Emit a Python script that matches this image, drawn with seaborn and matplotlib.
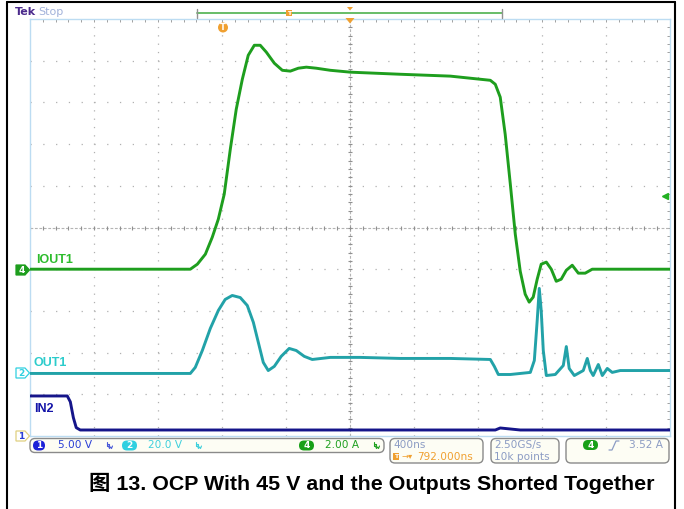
import matplotlib
matplotlib.use("Agg")
import matplotlib.pyplot as plt
from matplotlib.patches import FancyBboxPatch, Polygon, Circle
import numpy as np
import pandas as pd
import seaborn as sns

sns.set_theme(style="white")
plt.rcParams['font.family'] = ['DejaVu Sans', 'Noto Sans CJK SC']
plt.rcParams['lines.scale_dashes'] = False

# 示波器设置
time_per_div = 400.0      # ns/div
trig_offset = 792.0       # ns, 屏幕中心相对触发点
trig_level = 3.52         # A
ch1_scale, ch2_scale, ch4_scale = 5.0, 20.0, 2.0   # V/div, V/div, A/div
ch1_pos, ch2_pos, ch4_pos = 0.0, 1.5, 4.0          # div

# IOUT1 (ch4, A)
iout_t = [-1206, -206, -162, -112, -69, -31, 6, 44, 81, 119, 156, 194, 231, 269,
          319, 369, 419, 469, 519, 581, 669, 794, 1106, 1419, 1669, 1700, 1731,
          1762, 1794, 1825, 1856, 1887, 1912, 1937, 1962, 1987, 2019, 2050, 2081,
          2112, 2144, 2181, 2219, 2262, 2306, 2356, 2794]
iout_a = [0.0, 0.0, 0.24, 0.72, 1.53, 2.40, 3.60, 5.76, 7.67, 9.11, 10.26, 10.74,
          10.74, 10.41, 9.88, 9.54, 9.50, 9.64, 9.69, 9.64, 9.54, 9.45, 9.35, 9.26,
          9.06, 8.87, 8.25, 6.47, 4.08, 1.68, -0.10, -1.20, -1.58, -1.34, -0.48,
          0.24, 0.34, 0.0, -0.58, -0.48, -0.05, 0.19, -0.19, -0.19, 0.0, 0.0, 0.0]

# OUT1 (ch2, V)
out_t = [-1206, -206, -175, -131, -81, -31, 12, 56, 106, 150, 188, 219, 250, 281,
         319, 362, 412, 456, 506, 556, 669, 856, 1106, 1419, 1669, 1694, 1719, 1794,
         1919, 1944, 1962, 1975, 1987, 2000, 2019, 2075, 2125, 2144, 2162, 2194,
         2250, 2275, 2294, 2312, 2344, 2369, 2400, 2431, 2481, 2794]
out_v = [0.0, 0.0, 2.9, 11.0, 21.6, 30.2, 35.5, 37.4, 36.4, 32.6, 24.5, 14.9, 5.3,
         1.4, 3.4, 8.2, 12.0, 11.0, 8.2, 6.7, 7.7, 7.7, 7.2, 7.2, 6.7, 3.4, -0.5,
         -0.5, 0.5, 6.2, 25.4, 40.8, 30.2, 11.0, -1.0, -0.5, 3.8, 12.9, 2.4, -1.0,
         1.4, 7.2, 1.4, -1.0, 4.3, -1.0, 2.4, 0.5, 1.4, 1.4]

# IN2 (ch1, V)
in2_t = [-1206, -975, -956, -937, -919, -894, 1700, 1731, 1794, 1856, 2794]
in2_v = [4.8, 4.8, 4.1, 2.2, 1.0, 0.72, 0.72, 0.96, 0.84, 0.72, 0.72]

W, H = 684, 509
fig = plt.figure(figsize=(W / 100, H / 100), dpi=100)
fig.patch.set_facecolor('white')

x0 = trig_offset - 5 * time_per_div
x1 = trig_offset + 5 * time_per_div
ax = fig.add_axes([30 / W, 1 - 436 / H, 640 / W, 417 / H])
ax.set_xlim(x0, x1)
ax.set_ylim(0, 10)

# 网格
for k in range(1, 10):
    if k == 5:
        continue
    ax.axvline(x0 + k * time_per_div, color='#b0b0b0', lw=0.9, ls=(0, (0.9, 5.1)), zorder=1)
    ax.axhline(k, color='#b0b0b0', lw=0.9, ls=(0, (0.9, 8.3)), zorder=1)
ax.axhline(5, color='#b4b4b4', lw=0.8, ls=(0, (2.0, 1.2)), zorder=1)
ax.axvline(trig_offset, color='#b4b4b4', lw=0.8, ls=(0, (2.0, 1.2)), zorder=1)
mx = np.arange(x0, x1 + 1, time_per_div / 5)
my = np.arange(0, 10.01, 0.2)
ax.plot(mx, np.full(len(mx), 5.0), ls='none', marker='|', ms=3, mew=0.8, color='#909090', zorder=1)
ax.plot(np.full(len(my), trig_offset), my, ls='none', marker='_', ms=3, mew=0.8, color='#909090', zorder=1)

ax.set_xticks(mx)
ax.set_yticks(my)
ax.tick_params(which='both', direction='in', length=2.5, width=0.7, color='#a0a0a0',
               top=True, right=True, labelbottom=False, labelleft=False)
for s in ax.spines.values():
    s.set_color('#bcdcf2')
    s.set_linewidth(1.0)

# 波形
traces = [
    (iout_t, iout_a, ch4_pos, ch4_scale, '#1e9e1e'),
    (out_t, out_v, ch2_pos, ch2_scale, '#22a2a8'),
    (in2_t, in2_v, ch1_pos, ch1_scale, '#15158a'),
]
for t, v, pos, scale, col in traces:
    df = pd.DataFrame({'t': t, 'div': pos + np.array(v) / scale})
    sns.lineplot(data=df, x='t', y='div', ax=ax, color=col, lw=2.1,
                 estimator=None, sort=False, legend=False, zorder=3)
ax.set_xlabel('')
ax.set_ylabel('')

# 触发电平标记
ax.plot([x1 - 30], [ch4_pos + trig_level / ch4_scale], marker='<', ms=4.5,
        color='#22b022', clip_on=False, zorder=4)

# 叠加层 (像素坐标)
ov = fig.add_axes([0, 0, 1, 1], zorder=10)
ov.set_xlim(0, W)
ov.set_ylim(H, 0)
ov.set_axis_off()

# 外框
ov.plot([7, 7], [2, H], color='black', lw=1.5)
ov.plot([7, 675], [2, 2], color='black', lw=1.5)
ov.plot([675, 675], [2, H], color='black', lw=1.5)

ov.text(15, 12, 'Tek', color='#4b2a8c', fontsize=8, fontweight='bold', va='center')
ov.text(38.5, 12, 'Stop', color='#a2b2da', fontsize=8, va='center')

# 记录条
ov.plot([197, 502], [13, 13], color='#5cb85c', lw=1.3)
for bx in (197, 502):
    ov.plot([bx, bx], [8.5, 17.5], color='#909090', lw=1.0)
ov.text(289, 13, 'T', color='white', fontsize=4.5, fontweight='bold', ha='center', va='center',
        bbox=dict(boxstyle='square,pad=0.15', fc='#f0a030', ec='none'))
ov.add_patch(Polygon([[347, 7], [353, 7], [350, 10.5]], closed=True, fc='#f0a030', ec='none'))
ov.add_patch(Polygon([[345.5, 18], [354.5, 18], [350, 23.5]], closed=True, fc='#f0a030', ec='none'))
ov.add_patch(Circle((223, 27.5), 5, fc='#f0a030', ec='none'))
ov.text(223, 27.8, 'T', color='white', fontsize=6, fontweight='bold', ha='center', va='center')

# 通道标签
ov.text(36, 260, 'IOUT1', color='#2cbc2c', fontsize=9, fontweight='bold', va='center',
        family=['Liberation Sans', 'DejaVu Sans'])
ov.text(34, 363, 'OUT1', color='#2ccccc', fontsize=9, fontweight='bold', va='center',
        family=['Liberation Sans', 'DejaVu Sans'])
ov.text(34, 409, 'IN2', color='#1414a8', fontsize=9, fontweight='bold', va='center',
        family=['Liberation Sans', 'DejaVu Sans'])


def ch_flag(y, num, fc, ec, tc):
    ov.add_patch(Polygon([[16, y - 5], [25, y - 5], [29.5, y], [25, y + 5], [16, y + 5]],
                         closed=True, fc=fc, ec=ec, lw=0.9))
    ov.text(21.5, y + 0.3, num, color=tc, fontsize=6.5, fontweight='bold', ha='center', va='center')


ch_flag(270, '4', '#1e9e1e', '#1e9e1e', 'white')
ch_flag(373, '2', 'white', '#30d0e0', '#30d0e0')
ch_flag(436, '1', 'white', '#e0d080', '#2a3fd6')

# 状态栏
box_kw = dict(boxstyle='round,pad=0,rounding_size=5', fc='#fdfdf4', ec='#8a8a8a', lw=1.0)
ov.add_patch(FancyBboxPatch((30, 438.5), 354, 14, **box_kw))
ov.add_patch(FancyBboxPatch((390, 438.5), 93, 24.5, **box_kw))
ov.add_patch(FancyBboxPatch((491, 438.5), 68, 24.5, **box_kw))
ov.add_patch(FancyBboxPatch((566, 438.5), 103, 24.5, **box_kw))


def pill(x, y, w, num, fc):
    ov.add_patch(FancyBboxPatch((x, y - 5), w, 10, boxstyle='round,pad=0,rounding_size=5',
                                fc=fc, ec='none'))
    ov.text(x + w / 2, y + 0.3, num, color='white', fontsize=6.5, fontweight='bold',
            ha='center', va='center')


def bw_icon(x, y, col):
    # 带宽限制小图标
    ov.plot([x - 2.5, x - 2.5, x - 0.5, x - 0.5, x - 2.5], [y - 3.5, y + 0.5, y + 0.5, y - 1.5, y - 1.5],
            color=col, lw=0.8)
    ov.plot([x - 0.5, x + 0.5, x + 1.5, x + 2.5, x + 3.5], [y + 0.5, y + 3, y + 1.5, y + 3, y + 0.5],
            color=col, lw=0.8)


pill(33, 445.5, 12, '1', '#1c22d8')
ov.text(58, 445.5, '5.00 V', color='#2a3fd6', fontsize=7.6, va='center')
bw_icon(109, 445.5, '#4a5ad8')
pill(122, 445.5, 15, '2', '#30d0e0')
ov.text(148, 445.5, '20.0 V', color='#3fd0dc', fontsize=7.6, va='center')
bw_icon(198, 445.5, '#3fd0dc')
pill(299, 445.5, 15, '4', '#18a018')
ov.text(325, 445.5, '2.00 A', color='#20a020', fontsize=7.6, va='center')
bw_icon(376, 445.5, '#20a020')

dim = '#8c9cc4'
ov.text(393, 445, '400ns', color=dim, fontsize=7.6, va='center')
ov.text(396, 456.5, 'T', color='white', fontsize=4.5, fontweight='bold', ha='center', va='center',
        bbox=dict(boxstyle='square,pad=0.15', fc='#f0a030', ec='none'))
ov.text(401, 456.5, '→▾', color='#f0a030', fontsize=6, va='center')
ov.text(417, 456.5, '792.000ns', color='#f0a030', fontsize=7.6, va='center')
ov.text(494, 445, '2.50GS/s', color=dim, fontsize=7.6, va='center')
ov.text(494, 456.5, '10k points', color=dim, fontsize=7.6, va='center')
pill(583, 445, 15, '4', '#18a018')
ov.plot([609, 612, 616, 619], [450, 450, 441, 441], color=dim, lw=0.9)
ov.text(629, 445, '3.52 A', color=dim, fontsize=7.6, va='center')

# 图题
ov.text(372, 483, '图 13. OCP With 45 V and the Outputs Shorted Together', color='black',
        fontsize=15.4, fontweight='bold', ha='center', va='center',
        family=['Liberation Sans', 'Noto Sans CJK SC'])

fig.savefig('out.png', dpi=100, facecolor='white')
